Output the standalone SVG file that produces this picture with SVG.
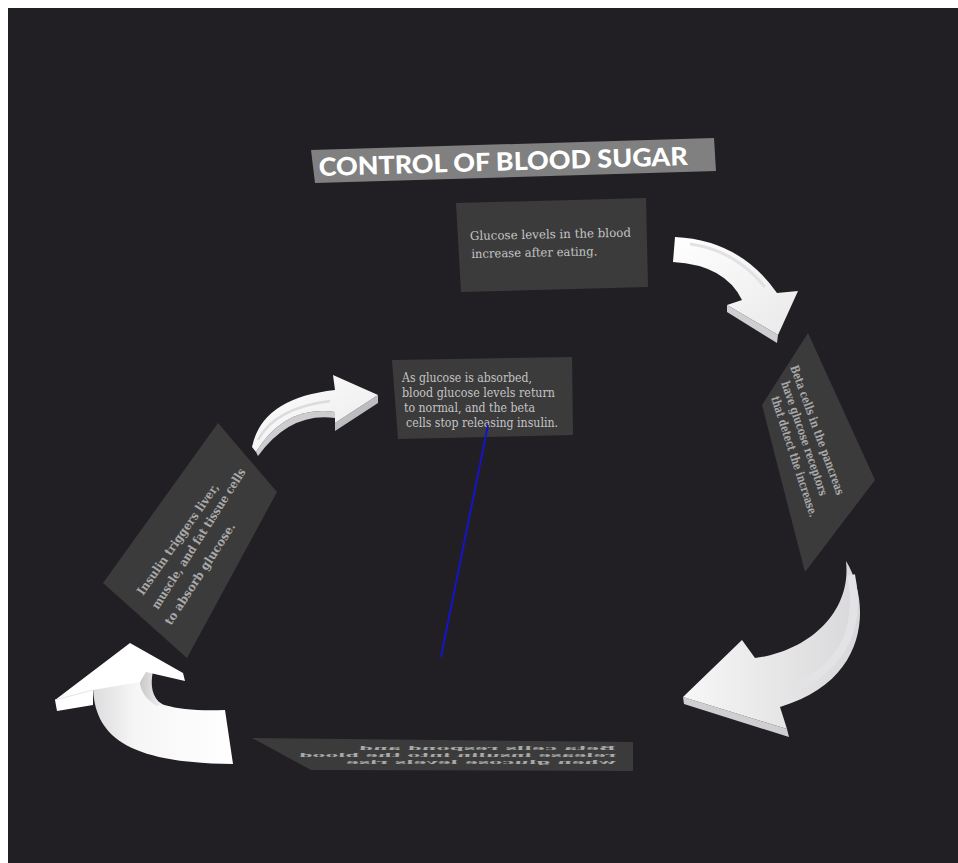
<svg xmlns="http://www.w3.org/2000/svg" width="958" height="863" viewBox="0 0 958 863">
<defs>
<style>
.box{fill:#3b3b3c}
.txt{font-family:"DejaVu Serif","Liberation Serif",serif;fill:#c4c4c4;font-size:12px}
.txtb{font-family:"DejaVu Serif","Liberation Serif",serif;fill:#a9a9a9;font-size:12px;font-weight:bold}
.title{font-family:"Lato","Open Sans","Liberation Sans",sans-serif;font-weight:900;font-size:25px;fill:#ffffff}
.face{fill:url(#wg)}
.side{fill:#cfcfd2}
</style>
<linearGradient id="wg" x1="0" y1="0" x2="1" y2="1">
<stop offset="0" stop-color="#ffffff"/>
<stop offset="1" stop-color="#e9e9ea"/>
</linearGradient>
<linearGradient id="sg" x1="0" y1="0" x2="1" y2="0">
<stop offset="0" stop-color="#f7f7f7"/>
<stop offset="1" stop-color="#d8d8da"/>
</linearGradient>
<linearGradient id="ig" x1="0" y1="0" x2="1" y2="0">
<stop offset="0" stop-color="#c8c8ca"/>
<stop offset="1" stop-color="#f2f2f2"/>
</linearGradient>
<linearGradient id="bg" x1="0" y1="0" x2="1" y2="0">
<stop offset="0" stop-color="#dcdcde"/>
<stop offset="0.3" stop-color="#f6f6f6"/>
<stop offset="1" stop-color="#ffffff"/>
</linearGradient>
</defs>
<rect width="958" height="863" fill="#ffffff"/>
<rect x="8" y="8" width="950" height="855" fill="#211f24"/>

<g id="title">
<polygon points="311,150 714,138 716,171 315,183" fill="#808080"/>
<text class="title" x="319" y="176" textLength="369" lengthAdjust="spacingAndGlyphs" transform="rotate(-1.7 319 176)">CONTROL OF BLOOD SUGAR</text>
</g>

<g id="node-glucose-increase">
<polygon class="box" points="456,203 646,198 648,287 461,292"/>
<text class="txt" transform="rotate(-1.2 470 240)"><tspan x="470" y="240" textLength="161" lengthAdjust="spacingAndGlyphs">Glucose levels in the blood</tspan><tspan x="471" y="258" textLength="126" lengthAdjust="spacingAndGlyphs">increase after eating.</tspan></text>
</g>

<g id="node-beta-cells-detect">
<polygon class="box" points="808,333 875,480 805,572 762,405"/>
<text class="txtb" font-size="11" x="790" y="367" textLength="137" lengthAdjust="spacingAndGlyphs" transform="rotate(70 790 367)">Beta cells in the pancreas</text>
<text class="txtb" font-size="11" x="781" y="383" textLength="120" lengthAdjust="spacingAndGlyphs" transform="rotate(71 781 383)">have glucose receptors</text>
<text class="txtb" font-size="11" x="771" y="398" textLength="126" lengthAdjust="spacingAndGlyphs" transform="rotate(72 771 398)">that detect the increase.</text>
</g>

<g id="node-beta-cells-release">
<polygon class="box" points="252,738 633,742 633,771 311,770"/>
<g transform="translate(616 0) scale(-1 1)">
<text class="txtb" font-size="13" transform="translate(0 750) scale(1 0.5)"><tspan x="0" y="0" textLength="257" lengthAdjust="spacingAndGlyphs">Beta cells respond and</tspan></text>
<text class="txtb" font-size="13" transform="translate(0 757) scale(1 0.5)"><tspan x="0" y="0" textLength="317" lengthAdjust="spacingAndGlyphs">release insulin into the blood</tspan></text>
<text class="txtb" font-size="13" transform="translate(0 764) scale(1 0.5)"><tspan x="0" y="0" textLength="270" lengthAdjust="spacingAndGlyphs">when glucose levels rise</tspan></text>
</g>
</g>

<g id="node-insulin-triggers">
<polygon class="box" points="218,423 277,492 187,658 103,583"/>
<text class="txtb" font-size="13" x="143" y="596" textLength="133" lengthAdjust="spacingAndGlyphs" transform="rotate(-55 143 596)">Insulin triggers liver,</text>
<text class="txtb" font-size="13" x="158" y="610" textLength="164" lengthAdjust="spacingAndGlyphs" transform="rotate(-57.5 158 610)">muscle, and fat tissue cells</text>
<text class="txtb" font-size="13" x="171" y="626" textLength="119" lengthAdjust="spacingAndGlyphs" transform="rotate(-57 171 626)">to absorb glucose.</text>
</g>

<g id="node-glucose-absorbed">
<polygon class="box" points="392,360 572,357 573,435 398,439"/>
<text class="txt"><tspan x="402" y="382" textLength="130" lengthAdjust="spacingAndGlyphs">As glucose is absorbed,</tspan><tspan x="402" y="397" textLength="153" lengthAdjust="spacingAndGlyphs">blood glucose levels return</tspan><tspan x="404" y="412" textLength="131" lengthAdjust="spacingAndGlyphs">to normal, and the beta</tspan><tspan x="406" y="427" textLength="152" lengthAdjust="spacingAndGlyphs">cells stop releasing insulin.</tspan></text>
</g>

<g id="connectors">
<!-- top right arrow -->
<polygon class="side" points="727,305 778,335 777,343 727,312"/>
<path class="face" d="M675,237 Q740,240 777,293 L798,291 L778,335 L727,305 L742,300 Q725,265 673,262 Z"/>
<path d="M690,244 Q735,250 765,287" fill="none" stroke="#e2e2e2" stroke-width="3"/>
<!-- small arrow left -->
<path fill="#cdcdcf" d="M256,452 Q285,405 335,412 L335,418 Q290,412 258,456 Z"/>
<polygon fill="#bdbdbf" points="378,395 378,403 335,431 335,423"/>
<path class="face" d="M252,447 Q262,398 335,390 L333,375 L378,395 L335,423 L335,412 Q285,405 256,452 Z"/>
<path d="M258,440 Q275,408 330,401" fill="none" stroke="#dcdcdc" stroke-width="2.5"/>
<!-- big right arrow -->
<polygon class="side" points="683,697 787,729 789,737 684,704"/>
<path fill="url(#sg)" d="M846,561 C870,600 872,680 780,707 L787,729 L683,697 L742,640 L755,658 C805,652 852,615 846,561 Z"/>
<path d="M851,575 C860,620 850,665 790,690" fill="none" stroke="#e3e3e5" stroke-width="8"/>
<!-- bottom left arrow -->
<path fill="url(#bg)" d="M93,686 C94,735 125,763 233,764 L225,710 C180,712 150,705 143,690 L145,672 Z"/>
<path fill="url(#ig)" d="M143,672 L153,671 C150,685 152,698 162,704 L157,706 C146,700 140,690 140,682 Z"/>
<polygon fill="#ffffff" points="55,700 130,643 183,673 185,681 146,672 140,682 93,690 93,705 57,711"/>
<line x1="55" y1="700" x2="93" y2="690" stroke="#e6e6e8" stroke-width="1"/>
<!-- blue line -->
<line x1="488" y1="425" x2="441" y2="657" stroke="#1414c8" stroke-width="2"/>
</g>
</svg>
